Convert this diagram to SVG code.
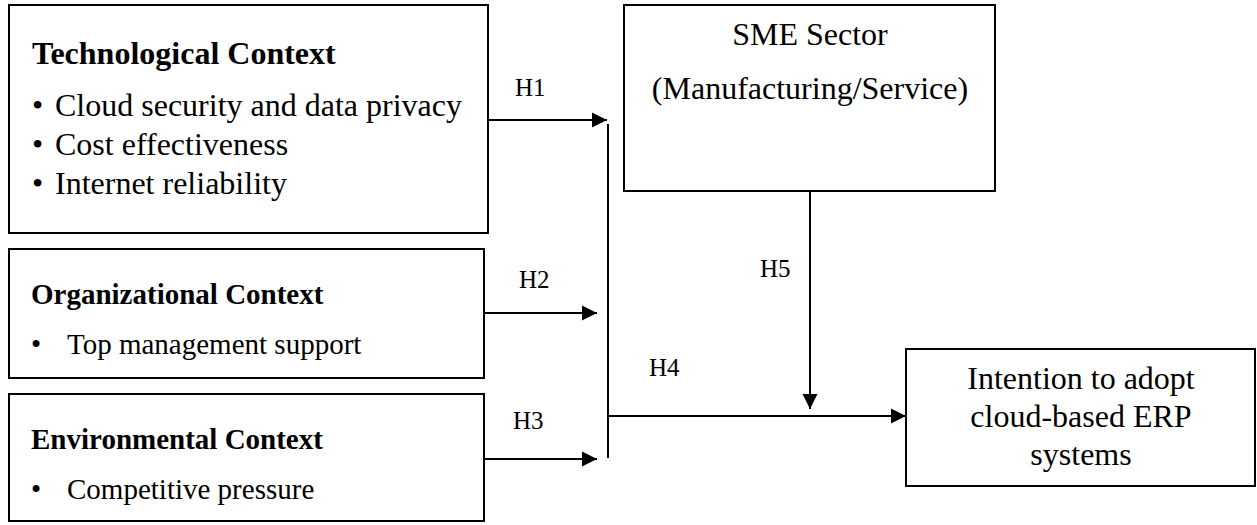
<svg xmlns="http://www.w3.org/2000/svg" width="1257" height="525" viewBox="0 0 1257 525">
<style>
.box{fill:#fff;stroke:#000;stroke-width:2}
.t{font-family:"Liberation Serif","Times New Roman",serif;fill:#000}
.b{font-weight:bold}
.s32{font-size:32px}
.s29{font-size:29px}
.h{font-size:25px}
.ln{stroke:#000;stroke-width:2;fill:none}
</style>
<defs>
<marker id="ah" markerUnits="userSpaceOnUse" markerWidth="16" markerHeight="16" viewBox="0 0 16 16" refX="15" refY="8" orient="auto">
<path d="M0,0.5 L15,8 L0,15.5 Z" fill="#000"/>
</marker>
</defs>
<rect width="1257" height="525" fill="#fff"/>
<g id="tech">
<rect class="box" x="9" y="5" width="479" height="228"/>
<text class="t b s32" x="32" y="64">Technological Context</text>
<text class="t s32" x="32" y="116">•</text>
<text class="t s32" x="55" y="116">Cloud security and data privacy</text>
<text class="t s32" x="32" y="155">•</text>
<text class="t s32" x="55" y="155">Cost effectiveness</text>
<text class="t s32" x="32" y="194">•</text>
<text class="t s32" x="55" y="194">Internet reliability</text>
</g>
<g id="org">
<rect class="box" x="9" y="249" width="475" height="129"/>
<text class="t b s29" x="31" y="304">Organizational Context</text>
<text class="t s29" x="31" y="354">•</text>
<text class="t s29" x="67" y="354">Top management support</text>
</g>
<g id="env">
<rect class="box" x="9" y="394" width="475" height="127"/>
<text class="t b s29" x="31" y="449">Environmental Context</text>
<text class="t s29" x="31" y="499">•</text>
<text class="t s29" x="67" y="499">Competitive pressure</text>
</g>
<g id="sme">
<rect class="box" x="624" y="5" width="371" height="186"/>
<text class="t s32" x="810" y="45" text-anchor="middle">SME Sector</text>
<text class="t s32" x="810" y="99" text-anchor="middle">(Manufacturing/Service)</text>
</g>
<g id="intention">
<rect class="box" x="906" y="349" width="349" height="137"/>
<text class="t s32" x="1081" y="389" text-anchor="middle">Intention to adopt</text>
<text class="t s32" x="1081" y="427" text-anchor="middle">cloud-based ERP</text>
<text class="t s32" x="1081" y="465" text-anchor="middle">systems</text>
</g>
<g id="connectors">
<line class="ln" x1="488" y1="120" x2="607" y2="120" marker-end="url(#ah)"/>
<line class="ln" x1="484" y1="313" x2="597" y2="313" marker-end="url(#ah)"/>
<line class="ln" x1="484" y1="459" x2="597" y2="459" marker-end="url(#ah)"/>
<line class="ln" x1="608" y1="124" x2="608" y2="458"/>
<line class="ln" x1="608" y1="416" x2="906" y2="416" marker-end="url(#ah)"/>
<line class="ln" x1="810" y1="191" x2="810" y2="409" marker-end="url(#ah)"/>
<text class="t h" x="515" y="96">H1</text>
<text class="t h" x="519" y="288">H2</text>
<text class="t h" x="513" y="429">H3</text>
<text class="t h" x="649" y="376">H4</text>
<text class="t h" x="760" y="277">H5</text>
</g>
</svg>
